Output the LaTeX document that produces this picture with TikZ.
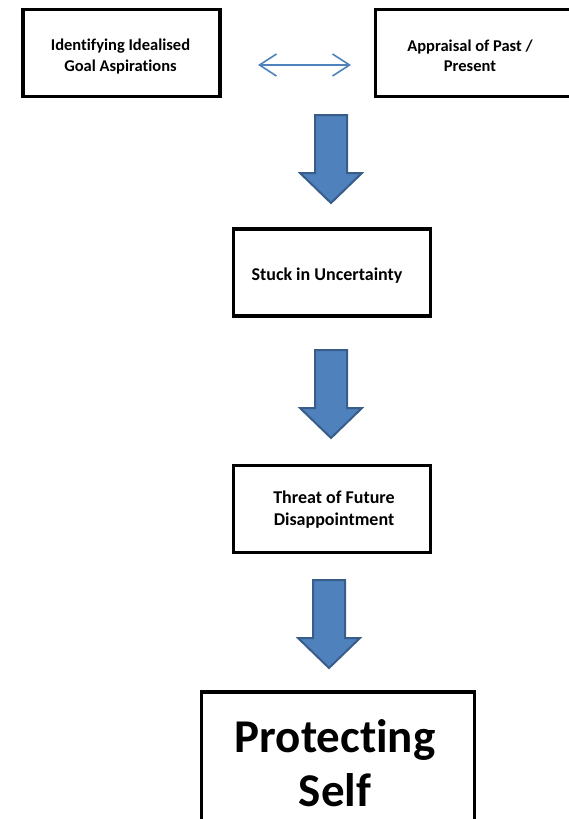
\documentclass[tikz,border=0pt]{standalone}
\usepackage{fontspec}
\setmainfont{Carlito}[Ligatures=NoCommon]
\usetikzlibrary{arrows.meta}
\definecolor{afill}{HTML}{4F81BD}
\definecolor{aedge}{HTML}{385D8A}
\tikzset{
  box/.style={draw=black, line width=3.5pt, rectangle, inner sep=0pt,
    minimum width=197pt, minimum height=87pt},
  bigbox/.style={draw=black, line width=3.8pt, rectangle, inner sep=0pt,
    minimum width=273pt, minimum height=150pt},
  smalltext/.style={align=center, inner sep=0pt, font=\fontsize{16.5pt}{20.5pt}\selectfont\bfseries},
  midtext/.style={align=center, inner sep=0pt, font=\fontsize{18pt}{21.5pt}\selectfont\bfseries},
  bigtext/.style={align=center, inner sep=0pt, font=\fontsize{47pt}{54pt}\selectfont\bfseries},
  blockarrow/.style={fill=afill, draw=aedge, line width=2pt, line join=miter},
  dbl/.style={draw=afill, line width=1.6pt, {Straight Barb[length=17pt,width=22pt]}-{Straight Barb[length=17pt,width=22pt]}}
}
\begin{document}
\begin{tikzpicture}[x=1pt,y=-1pt]
\useasboundingbox (0,0) rectangle (568,819);
\node[box] (b1) at (121.5,53) {};
\node[smalltext] (t1) at ([xshift=-1pt,yshift=-3.5pt]b1.center) {Identifying Idealised\\Goal Aspirations};
\node[box] (b2) at (474,53) {};
\node[smalltext] (t2) at ([xshift=-4pt,yshift=-3pt]b2.center) {Appraisal of Past /\\Present};
\node[box] (b3) at (332,272.5) {};
\node[midtext] (t3) at ([xshift=-5pt,yshift=-3pt]b3.center) {Stuck in Uncertainty};
\node[box] (b4) at (332,509) {};
\node[midtext] (t4) at ([xshift=2pt,yshift=-0.5pt]b4.center) {Threat of Future\\Disappointment};
\node[bigbox] (b5) at (338,767) {};
\node[bigtext] (t5) at ([xshift=-3pt,yshift=4pt]b5.center) {Protecting\\Self};
\coordinate (dl) at (258,65);
\coordinate (dr) at (351,65);
\draw[dbl] (dl) -- (dr);
\coordinate (a1) at (331,115);
\coordinate (a2) at (331,350);
\coordinate (a3) at (329,580);
\draw[blockarrow] (a1) ++(-16,0) -- ++(32,0) -- ++(0,58) -- ++(15,0) -- ++(-31,30) -- ++(-31,-30) -- ++(15,0) -- cycle;
\draw[blockarrow] (a2) ++(-16,0) -- ++(32,0) -- ++(0,58) -- ++(15,0) -- ++(-31,30) -- ++(-31,-30) -- ++(15,0) -- cycle;
\draw[blockarrow] (a3) ++(-16,0) -- ++(32,0) -- ++(0,58) -- ++(15,0) -- ++(-31,30) -- ++(-31,-30) -- ++(15,0) -- cycle;
\end{tikzpicture}
\end{document}
